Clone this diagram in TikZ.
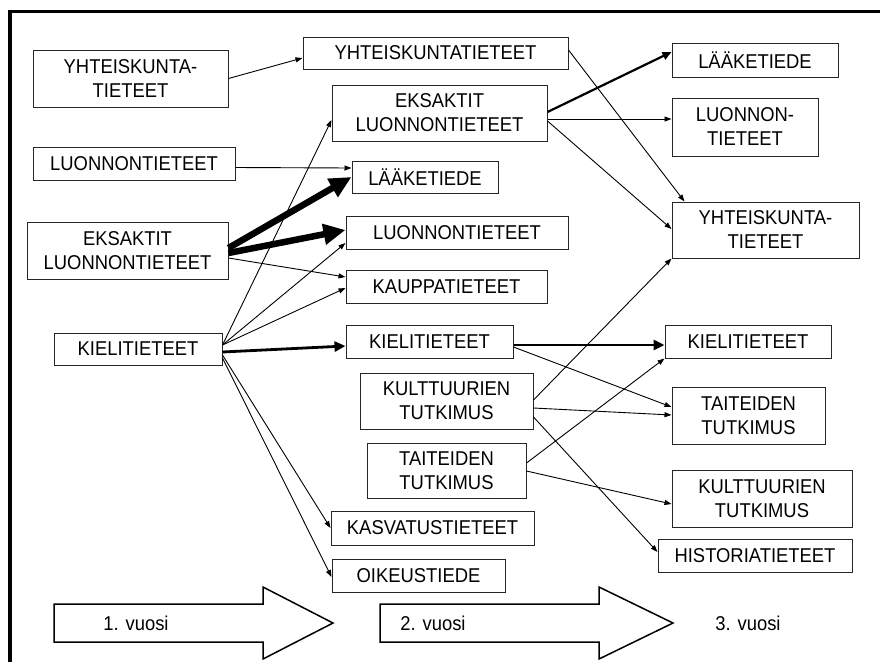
\documentclass[tikz,border=0pt]{standalone}
\usepackage{fontspec}
\setmainfont{Liberation Sans}[FakeStretch=0.92]
\usetikzlibrary{arrows.meta}
\begin{document}
\begin{tikzpicture}[x=1pt,y=-1pt,
  box/.style={draw=black!85,line width=1pt,inner sep=0pt,align=center,
    font=\fontsize{20}{24}\selectfont,rectangle},
  thin/.style={draw=black,line width=0.9pt,-{Triangle[length=7pt,width=5pt]}},
  medium/.style={draw=black,line width=2.8pt,-{Triangle[length=11pt,width=10pt]}},
  heavy/.style={draw=black,line width=6.5pt,-{Triangle[length=22pt,width=20pt]}},
  bigarrow/.style={draw=black,line width=1.5pt,fill=white},
  lbl/.style={font=\fontsize{20}{24}\selectfont,inner sep=0pt}]
\useasboundingbox (0,0) rectangle (880,662);
\fill[white] (0,0) rectangle (880,662);
% frame
\draw[line width=3.5pt] (10,662) -- (10,11.5) -- (880,11.5);
% column 1
\node[box,minimum width=195pt,minimum height=57pt] (y1) at (130.5,78.5) {YHTEISKUNTA-\\TIETEET};
\node[box,minimum width=202pt,minimum height=33pt] (l1) at (134,163.5) {LUONNONTIETEET};
\node[box,minimum width=201pt,minimum height=57pt] (e1) at (127.5,250.5) {EKSAKTIT\\LUONNONTIETEET};
\node[box,minimum width=168pt,minimum height=32pt] (k1) at (138,349) {KIELITIETEET};
% column 2
\node[box,minimum width=265pt,minimum height=32pt] (y2) at (435.5,53) {YHTEISKUNTATIETEET};
\node[box,minimum width=215pt,minimum height=56pt] (e2) at (439.5,113) {EKSAKTIT\\LUONNONTIETEET};
\node[box,minimum width=146pt,minimum height=32pt] (la2) at (425,177) {LÄÄKETIEDE};
\node[box,minimum width=222pt,minimum height=33pt] (lu2) at (457,232.5) {LUONNONTIETEET};
\node[box,minimum width=201pt,minimum height=33pt] (ka2) at (446.5,286.5) {KAUPPATIETEET};
\node[box,minimum width=167pt,minimum height=33pt] (ki2) at (429.5,341.5) {KIELITIETEET};
\node[box,minimum width=173pt,minimum height=56pt] (ku2) at (446.5,401) {KULTTUURIEN\\TUTKIMUS};
\node[box,minimum width=159pt,minimum height=55pt] (ta2) at (446.5,470.5) {TAITEIDEN\\TUTKIMUS};
\node[box,minimum width=203pt,minimum height=34pt] (ks2) at (432.5,528) {KASVATUSTIETEET};
\node[box,minimum width=173pt,minimum height=33pt] (oi2) at (418.5,575.5) {OIKEUSTIEDE};
% column 3
\node[box,minimum width=166pt,minimum height=34pt] (la3) at (755,60) {LÄÄKETIEDE};
\node[box,minimum width=146pt,minimum height=58pt] (lu3) at (745,127) {LUONNON-\\TIETEET};
\node[box,minimum width=187pt,minimum height=56pt] (y3) at (765.5,230) {YHTEISKUNTA-\\TIETEET};
\node[box,minimum width=166pt,minimum height=33pt] (ki3) at (748,341.5) {KIELITIETEET};
\node[box,minimum width=153pt,minimum height=57pt] (ta3) at (748.5,415.5) {TAITEIDEN\\TUTKIMUS};
\node[box,minimum width=180pt,minimum height=57pt] (ku3) at (762,498.5) {KULTTUURIEN\\TUTKIMUS};
\node[box,minimum width=194pt,minimum height=33pt] (hi3) at (755,555.5) {HISTORIATIETEET};
% connectors year 1 -> 2
\draw[thin] (y1.east) -- ([yshift=-5pt]y2.west);
\draw[thin] ([yshift=-4pt]l1.east) -- ([yshift=9pt]la2.west);
\draw[heavy] ([yshift=2.5pt]e1.east) -- (la2.west);
\draw[heavy] ([yshift=-2.5pt]e1.east) -- ([yshift=2.5pt]lu2.west);
\draw[thin] ([yshift=-7.5pt]e1.east) -- ([yshift=9.5pt]ka2.west);
\draw[thin] ([yshift=4pt]k1.east) -- ([yshift=-7pt]e2.west);
\draw[thin] ([yshift=4pt]k1.east) -- ([yshift=-10.5pt]lu2.west);
\draw[thin] ([yshift=4pt]k1.east) -- ([yshift=-1.5pt]ka2.west);
\draw[medium] ([yshift=-3pt]k1.east) -- ([yshift=-4.5pt]ki2.west);
\draw[thin] ([yshift=-6pt]k1.east) -- (ks2.west);
\draw[thin] ([yshift=-9pt]k1.east) -- ([yshift=-1.5pt]oi2.west);
% connectors year 2 -> 3
\draw[thin] ([yshift=3pt]y2.east) -- ([xshift=13pt]y3.north west);
\draw[line width=2.2pt,-{Triangle[length=9pt,width=8pt]}] ([yshift=1pt]e2.east) -- ([yshift=8pt]la3.west);
\draw[thin] ([yshift=-6pt]e2.east) -- ([yshift=8pt]lu3.west);
\draw[thin] ([yshift=-8pt]e2.east) -- ([yshift=1pt]y3.west);
\draw[thin] ([yshift=1pt]ku2.east) -- (y3.south west);
\draw[medium] ([yshift=-3.5pt]ki2.east) -- ([yshift=-3.5pt]ki3.west);
\draw[thin] ([yshift=-5.5pt]ki2.east) -- ([yshift=8.5pt]ta3.west);
\draw[thin] ([yshift=-7pt]ku2.east) -- ([yshift=0.5pt]ta3.west);
\draw[thin] ([yshift=-16pt]ku2.east) -- ([yshift=3.5pt]hi3.west);
\draw[thin] ([yshift=7.5pt]ta2.east) -- (ki3.south west);
\draw[thin] ([yshift=-0.5pt]ta2.east) -- ([yshift=-5.5pt]ku3.west);
% year arrows
\draw[bigarrow] (54,604) -- (263,604) -- (263,587) -- (333,623) -- (263,659) -- (263,642) -- (54,642) -- cycle;
\draw[bigarrow] (380,604) -- (599,604) -- (599,587) -- (673,623) -- (599,659) -- (599,642) -- (380,642) -- cycle;
\node[lbl] (v1) at (136,623) {1. vuosi};
\node[lbl] (v2) at (433,623) {2. vuosi};
\node[lbl] (v3) at (748,623) {3. vuosi};
\end{tikzpicture}
\end{document}
